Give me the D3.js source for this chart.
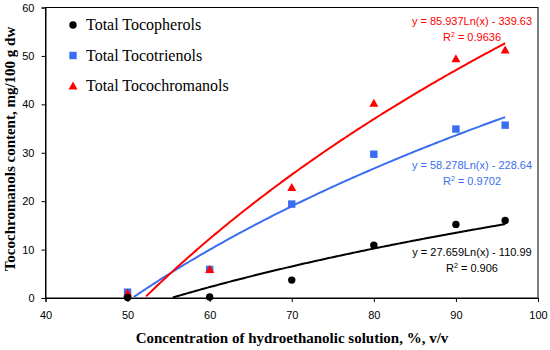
<!DOCTYPE html>
<html><head><meta charset="utf-8">
<script src="https://cdn.jsdelivr.net/npm/d3@7"></script>
<style>body{margin:0;background:#fff}svg{display:block}</style>
</head><body>
<svg id="c" width="550" height="350"></svg>
<script>
const xTicks = [40, 50, 60, 70, 80, 90, 100];
const yTicks = [0, 10, 20, 30, 40, 50, 60];
const concentrations = [50, 60, 70, 80, 90, 96];
const tocopherols = [0.1, 0.2, 3.7, 10.9, 15.2, 16.0];
const tocotrienols = [1.2, 5.9, 19.4, 29.7, 34.9, 35.7];
const tocochromanols = [1.0, 5.9, 22.8, 40.2, 49.4, 51.2];
const seriesNames = ["Total Tocopherols", "Total Tocotrienols", "Total Tocochromanols"];
const seriesColors = ["#000000", "#3a6ef0", "#ff0000"];
const seriesShapes = ["circle", "square", "triangle"];
const trendA = [27.659, 58.278, 85.937];
const trendB = [-110.99, -228.64, -339.63];
const trendEq = ["y = 27.659Ln(x) - 110.99", "y = 58.278Ln(x) - 228.64", "y = 85.937Ln(x) - 339.63"];
const trendR2 = ["0.906", "0.9702", "0.9636"];

const svg = d3.select("#c");
const x = d3.scaleLinear().domain([40, 100]).range([45.5, 538]);
const y = d3.scaleLinear().domain([0, 60]).range([298, 7.5]);

// frame
svg.append("rect").attr("x", x(40)).attr("y", y(60)).attr("width", x(100) - x(40)).attr("height", y(0) - y(60))
  .attr("fill", "none").attr("stroke", "#000").attr("stroke-width", 1);

const xAxis = svg.append("g").attr("transform", `translate(0,${y(0)})`)
  .call(d3.axisBottom(x).tickValues(xTicks).tickSize(4).tickPadding(9));
const yAxis = svg.append("g").attr("transform", `translate(${x(40)},0)`)
  .call(d3.axisLeft(y).tickValues(yTicks).tickSize(4).tickPadding(7));
[xAxis, yAxis].forEach(g => {
  g.select(".domain").attr("stroke", "#000");
  g.selectAll("line").attr("stroke", "#000");
  g.selectAll("text").attr("font-family", "Liberation Sans, Arial, sans-serif").attr("font-size", 11).attr("fill", "#000");
});

const allSeries = [tocopherols, tocotrienols, tocochromanols];

// trend lines
allSeries.forEach((vals, i) => {
  const xs = d3.range(concentrations[0], concentrations[concentrations.length - 1] + 0.001, 0.25);
  const pts = xs.map(c => [c, trendA[i] * Math.log(c) + trendB[i]]).filter(p => p[1] >= 0);
  svg.append("path").datum(pts)
    .attr("d", d3.line().x(d => x(d[0])).y(d => y(d[1])))
    .attr("fill", "none").attr("stroke", seriesColors[i]).attr("stroke-width", 2);
});

function marker(g, shape, cx, cy, color) {
  if (shape === "circle") g.append("circle").attr("cx", cx).attr("cy", cy).attr("r", 3.7).attr("fill", color);
  else if (shape === "square") g.append("rect").attr("x", cx - 3.7).attr("y", cy - 3.7).attr("width", 7.4).attr("height", 7.4).attr("fill", color);
  else g.append("path").attr("d", `M${cx},${cy - 4.5}L${cx + 4.5},${cy + 3.5}L${cx - 4.5},${cy + 3.5}Z`).attr("fill", color);
}

// points
[1, 2, 0].forEach(i => {
  const g = svg.append("g");
  allSeries[i].forEach((v, j) => marker(g, seriesShapes[i], x(concentrations[j]), y(v), seriesColors[i]));
});

// equations
const eqPos = [[251.7, 267.7], [165, 181], [21, 37]];
eqPos.forEach((p, i) => {
  svg.append("text").attr("x", 472).attr("y", p[0] + 4).attr("text-anchor", "middle")
    .attr("font-family", "Liberation Sans, Arial, sans-serif").attr("font-size", 11).attr("fill", seriesColors[i])
    .text(trendEq[i]);
  const r = svg.append("text").attr("x", 472).attr("y", p[1] + 4).attr("text-anchor", "middle")
    .attr("font-family", "Liberation Sans, Arial, sans-serif").attr("font-size", 11).attr("fill", seriesColors[i]);
  r.append("tspan").text("R");
  r.append("tspan").attr("dy", -4).attr("font-size", 7).text("2");
  r.append("tspan").attr("dy", 4).text(" = " + trendR2[i]);
});

// legend
seriesNames.forEach((n, i) => {
  const ly = 25 + i * 30.5;
  marker(svg, seriesShapes[i], 73, ly, seriesColors[i]);
  svg.append("text").attr("x", 86).attr("y", ly + 5).attr("font-family", "Liberation Serif, Times New Roman, serif")
    .attr("font-size", 16).attr("fill", "#000").text(n);
});

// axis titles
svg.append("text").attr("x", 292).attr("y", 343).attr("text-anchor", "middle")
  .attr("font-family", "Liberation Serif, Times New Roman, serif").attr("font-weight", "bold").attr("font-size", 15)
  .text("Concentration of hydroethanolic solution, %, v/v");
svg.append("text").attr("transform", "translate(15,149) rotate(-90)").attr("text-anchor", "middle")
  .attr("font-family", "Liberation Serif, Times New Roman, serif").attr("font-weight", "bold").attr("font-size", 15)
  .text("Tocochromanols content, mg/100 g dw");
</script>
</body></html>
